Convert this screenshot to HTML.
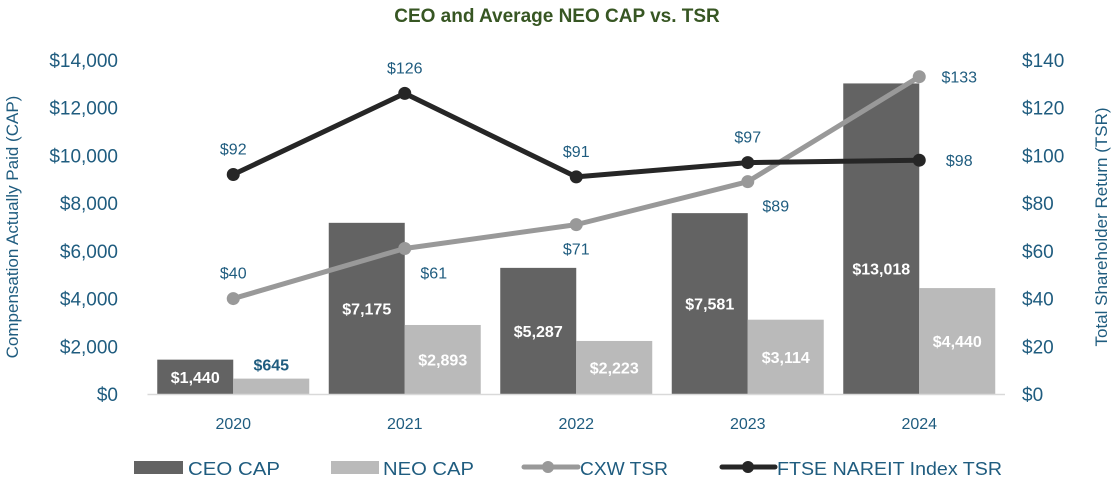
<!DOCTYPE html>
<html><head><meta charset="utf-8"><style>
body{margin:0;background:#fff;}
svg{display:block;font-family:"Liberation Sans",sans-serif;}
</style></head><body>
<svg id="chart" width="1114" height="486" viewBox="0 0 1114 486">
<text x="557" y="22" text-anchor="middle" font-size="19" font-weight="bold" fill="#375623">CEO and Average NEO CAP vs. TSR</text>
<text transform="translate(18,227) rotate(-90)" text-anchor="middle" font-size="17" fill="#1F5C7F">Compensation Actually Paid (CAP)</text>
<text transform="translate(1107,227) rotate(-90)" text-anchor="middle" font-size="17" fill="#1F5C7F">Total Shareholder Return (TSR)</text>
<g id="plot"></g>
<g id="legend">
<rect x="134" y="461" width="49" height="13" fill="#636363"/>
<text x="188" y="475" font-size="18" fill="#1F5C7F" textLength="92" lengthAdjust="spacingAndGlyphs">CEO CAP</text>
<rect x="331" y="461" width="48" height="13" fill="#BABABA"/>
<text x="383" y="475" font-size="18" fill="#1F5C7F" textLength="91" lengthAdjust="spacingAndGlyphs">NEO CAP</text>
<line x1="524" y1="467" x2="578" y2="467" stroke="#999" stroke-width="5" stroke-linecap="round"/>
<circle cx="548" cy="467" r="6" fill="#999"/>
<text x="580" y="475" font-size="18" fill="#1F5C7F" textLength="88" lengthAdjust="spacingAndGlyphs">CXW TSR</text>
<line x1="722" y1="467" x2="775" y2="467" stroke="#262626" stroke-width="5" stroke-linecap="round"/>
<circle cx="748" cy="467" r="6" fill="#262626"/>
<text x="777" y="475" font-size="18" fill="#1F5C7F" textLength="225" lengthAdjust="spacingAndGlyphs">FTSE NAREIT Index TSR</text>
</g>
</svg>
<script>
const years = ["2020","2021","2022","2023","2024"];
const ceoCap = [1440,7175,5287,7581,13018];
const neoCap = [645,2893,2223,3114,4440];
const cxwTsr = [40,61,71,89,133];
const ftseTsr = [92,126,91,97,98];
const leftTicks = [0,2000,4000,6000,8000,10000,12000,14000];
const rightTicks = [0,20,40,60,80,100,120,140];

const NS="http://www.w3.org/2000/svg";
const plot=document.getElementById('plot');
const y0=394, yTop=60, x0=147.5, step=171.5, bw=76;
const yL=v=>y0-(v/14000)*(y0-yTop);
const yR=v=>y0-(v/140)*(y0-yTop);
const xC=i=>x0+step*(i+0.5);
const blue="#1F5C7F";
function mk(tag,attrs,txt){const e=document.createElementNS(NS,tag);for(const k in attrs)e.setAttribute(k,attrs[k]);if(txt!==undefined)e.textContent=txt;plot.appendChild(e);return e;}
const fmt=v=>"$"+v.toLocaleString("en-US");

leftTicks.forEach(v=>{const t=mk('text',{x:118,y:yL(v)+7,'text-anchor':'end','font-size':19,fill:blue},fmt(v));

});
rightTicks.forEach(v=>{const t=mk('text',{x:1022,y:yR(v)+7,'text-anchor':'start','font-size':19,fill:blue},"$"+v);

});

years.forEach((yr,i)=>{
 const c=xC(i);
 const b1=mk('rect',{x:c-bw,y:yL(ceoCap[i]),width:bw,height:y0-yL(ceoCap[i]),fill:'#636363'});
 
 
 const b2=mk('rect',{x:c,y:yL(neoCap[i]),width:bw,height:y0-yL(neoCap[i]),fill:'#BABABA'});
 
 
 let ly=(yL(ceoCap[i])+y0)/2; if(i===4) ly+=30;
 const l1=mk('text',{x:c-bw/2,y:ly+6,'text-anchor':'middle','font-size':16,'font-weight':'bold',fill:'#fff'},fmt(ceoCap[i]));
 
 
 const small=(y0-yL(neoCap[i]))<30;
 const ny=small?yL(neoCap[i])-8:(yL(neoCap[i])+y0)/2+6;
 const l2=mk('text',{x:c+bw/2,y:ny,'text-anchor':'middle','font-size':16,'font-weight':'bold',fill:small?blue:'#fff'},fmt(neoCap[i]));
 
 
 const xl=mk('text',{x:c,y:429,'text-anchor':'middle','font-size':16,fill:blue},yr);
 
 
});
const ax=mk('line',{x1:x0,y1:y0+0.5,x2:x0+step*5,y2:y0+0.5,stroke:'#d9d9d9','stroke-width':1.5});



function series(vals,color,name,offs){
 const pts=vals.map((v,i)=>xC(i)+","+yR(v)).join(" ");
 const pl=mk('polyline',{points:pts,fill:'none',stroke:color,'stroke-width':5,'stroke-linejoin':'round'});
 
 
 vals.forEach((v,i)=>{
  const p=mk('circle',{cx:xC(i),cy:yR(v),r:6.5,fill:color});
  
  
  const t=mk('text',{x:xC(i)+offs[i][0],y:yR(v)+offs[i][1],'text-anchor':'middle','font-size':16,fill:blue},"$"+v);
  
  
 });
}
series(cxwTsr,'#999999','cxw-tsr',[[0,-20],[29,30],[0,30],[28,30],[40,6]]);
series(ftseTsr,'#262626','ftse-tsr',[[0,-20],[0,-20],[0,-20],[0,-20],[40,6]]);
</script>
</body></html>
